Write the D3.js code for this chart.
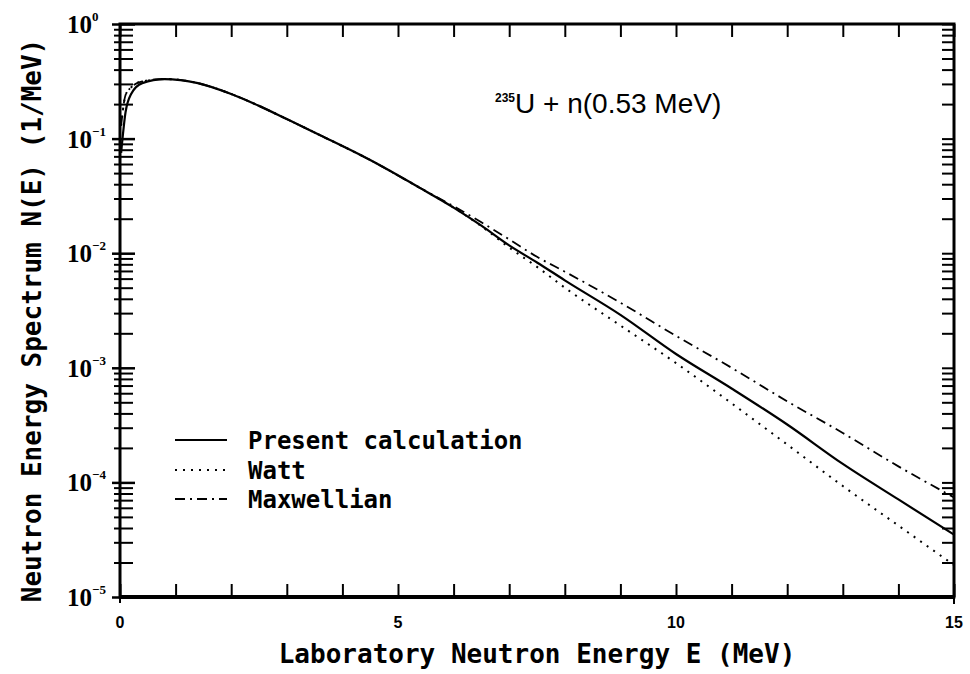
<!DOCTYPE html>
<html>
<head>
<meta charset="utf-8">
<script src="https://cdn.jsdelivr.net/npm/d3@7"></script>
<style>
  html, body { margin: 0; padding: 0; background: #fff; }
  svg { display: block; }
  .mono { font-family: "DejaVu Sans Mono", "Liberation Mono", monospace; font-weight: bold; }
  .serif { font-family: "Liberation Serif", "DejaVu Serif", serif; font-weight: bold; }
  .sans { font-family: "Liberation Sans", Arial, sans-serif; }
</style>
</head>
<body>
<svg id="chart" width="970" height="674"></svg>
<script>
// Neutron energy grid (MeV)
const energy = [0.02, 0.1, 0.2, 0.4, 0.8, 1.4, 2.0, 2.5, 3.0, 3.6, 4.5, 5.4,
                6.0, 6.5, 7.0, 7.5, 8.0, 9.0, 10.0, 11.0, 12.0, 13.0, 14.0, 15.0];
// N(E) in 1/MeV
const presentCalc = [0.075, 0.17, 0.245, 0.305, 0.331, 0.305, 0.245, 0.193, 0.148, 0.107, 0.065, 0.037,
                     0.025, 0.0174, 0.0117, 0.0083, 0.0058, 0.0029, 0.00132, 0.00066, 0.00032, 0.000145, 7.1e-5, 3.5e-5];
const watt        = [0.13, 0.24, 0.28, 0.315, 0.331, 0.305, 0.245, 0.193, 0.148, 0.107, 0.065, 0.037,
                     0.025, 0.0172, 0.0112, 0.0076, 0.0050, 0.00234, 0.0011, 0.00049, 0.000214, 9.3e-5, 4.2e-5, 1.9e-5];
const maxwellian  = [0.13, 0.24, 0.28, 0.315, 0.331, 0.305, 0.245, 0.193, 0.148, 0.107, 0.065, 0.037,
                     0.0257, 0.0186, 0.0132, 0.0093, 0.0069, 0.0037, 0.0019, 0.001, 0.00051, 0.00027, 0.000138, 7.4e-5];

const xLabelTicks = [0, 5, 10, 15];
const decadeExponents = [0, -1, -2, -3, -4, -5];
const seriesNames = ["Present calculation", "Watt", "Maxwellian"];

const svg = d3.select("#chart");
const plotL = 120, plotR = 954, plotT = 24, plotB = 597;

const x = d3.scaleLinear().domain([0, 15]).range([plotL, plotR]);
const y = d3.scaleLog().domain([1e-5, 1]).range([plotB, plotT]);

// minor tick values: 2..9 within each decade
const minorVals = [];
for (let e = -5; e < 0; e++) for (let m = 2; m <= 9; m++) minorVals.push(m * Math.pow(10, e));
const decadeVals = decadeExponents.map(e => Math.pow(10, e));
const intTicks = d3.range(0, 16);

const axisG = svg.append("g").attr("stroke", "#000");

// left axis: crossing ticks
axisG.append("g").attr("transform", `translate(${plotL},0)`)
  .call(d3.axisLeft(y).tickValues(minorVals).tickSize(0).tickFormat(""))
  .call(g => g.select(".domain").remove())
  .call(g => g.selectAll(".tick line").attr("x1", -6).attr("x2", 13).attr("stroke-width", 2));
axisG.append("g").attr("transform", `translate(${plotL},0)`)
  .call(d3.axisLeft(y).tickValues(decadeVals).tickSize(0).tickFormat(""))
  .call(g => g.select(".domain").remove())
  .call(g => g.selectAll(".tick line").attr("x1", -8).attr("x2", 15).attr("stroke-width", 2.5));

// right axis: inward ticks
axisG.append("g").attr("transform", `translate(${plotR},0)`)
  .call(d3.axisRight(y).tickValues(minorVals.concat(decadeVals)).tickSize(0).tickFormat(""))
  .call(g => g.select(".domain").remove())
  .call(g => g.selectAll(".tick line").attr("x1", -12).attr("x2", 0).attr("stroke-width", 2));

// top and bottom axes: inward ticks at each MeV
axisG.append("g").attr("transform", `translate(0,${plotT})`)
  .call(d3.axisTop(x).tickValues(intTicks).tickSize(0).tickFormat(""))
  .call(g => g.select(".domain").remove())
  .call(g => g.selectAll(".tick line").attr("y1", 0).attr("y2", 13).attr("stroke-width", 2));
axisG.append("g").attr("transform", `translate(0,${plotB})`)
  .call(d3.axisBottom(x).tickValues(intTicks).tickSize(0).tickFormat(""))
  .call(g => g.select(".domain").remove())
  .call(g => g.selectAll(".tick line").attr("y1", -13).attr("y2", 0).attr("stroke-width", 2));
axisG.append("line").attr("x1", x(0)).attr("x2", x(0)).attr("y1", plotB).attr("y2", plotB + 6).attr("stroke-width", 2);
axisG.append("line").attr("x1", x(15)).attr("x2", x(15)).attr("y1", plotB).attr("y2", plotB + 7).attr("stroke-width", 2);

// frame
svg.append("rect")
  .attr("x", plotL).attr("y", plotT)
  .attr("width", plotR - plotL).attr("height", plotB - plotT)
  .attr("fill", "none").attr("stroke", "#000").attr("stroke-width", 3);
svg.append("line").attr("x1", plotL).attr("x2", plotR).attr("y1", plotB).attr("y2", plotB)
  .attr("stroke", "#000").attr("stroke-width", 4);

// y tick labels: 10^n
const yLab = svg.append("g").attr("class", "serif").attr("fill", "#000");
decadeExponents.forEach(e => {
  const t = yLab.append("text")
    .attr("x", 67).attr("y", y(Math.pow(10, e)) + 9)
    .attr("font-size", 25);
  t.append("tspan").text("10");
  t.append("tspan").attr("dy", -12).attr("font-size", 13).text(e === 0 ? "0" : String(e).replace("-", "\u2212"));
});

// x tick labels
svg.append("g").attr("class", "sans").attr("font-weight", "bold")
  .selectAll("text").data(xLabelTicks).join("text")
  .attr("x", d => x(d)).attr("y", plotB + 31)
  .attr("text-anchor", "middle").attr("font-size", 16)
  .text(d => d);

// curves
const line = d3.line().x(d => x(d[0])).y(d => y(d[1])).curve(d3.curveMonotoneX);
const zipped = vals => energy.map((e, i) => [e, vals[i]]);
const plot = svg.append("g").attr("fill", "none").attr("stroke", "#000");
plot.append("path").datum(zipped(watt)).attr("d", line)
  .attr("stroke-width", 2).attr("stroke-dasharray", "2,6");
plot.append("path").datum(zipped(maxwellian)).attr("d", line)
  .attr("stroke-width", 1.8).attr("stroke-dasharray", "10,5,2,5");
plot.append("path").datum(zipped(presentCalc)).attr("d", line)
  .attr("stroke-width", 2.2);

// legend
const legend = svg.append("g");
const legendRows = [
  { name: seriesNames[0], y: 440, dash: null },
  { name: seriesNames[1], y: 470, dash: "2,6" },
  { name: seriesNames[2], y: 499, dash: "10,5,2,5" }
];
legendRows.forEach(r => {
  const l = legend.append("line").attr("x1", 175).attr("x2", 227).attr("y1", r.y).attr("y2", r.y)
    .attr("stroke", "#000").attr("stroke-width", 2);
  if (r.dash) l.attr("stroke-dasharray", r.dash);
  legend.append("text").attr("class", "mono").attr("x", 248).attr("y", r.y + 9)
    .attr("font-size", 24).text(r.name);
});

// reaction label
const rl = svg.append("text").attr("class", "sans").attr("x", 495).attr("y", 113).attr("font-size", 28);
rl.append("tspan").attr("font-size", 12).attr("font-weight", "bold").attr("dy", -11).text("235");
rl.append("tspan").attr("dy", 11).text("U + n(0.53 MeV)");

// axis titles
svg.append("text").attr("class", "mono").attr("font-size", 26)
  .attr("text-anchor", "middle")
  .attr("transform", `translate(41,${(plotT + plotB) / 2 + 10}) rotate(-90)`)
  .text("Neutron Energy Spectrum N(E) (1/MeV)");
svg.append("text").attr("class", "mono").attr("font-size", 26)
  .attr("text-anchor", "middle")
  .attr("x", (plotL + plotR) / 2).attr("y", 663)
  .text("Laboratory Neutron Energy E (MeV)");
</script>
</body>
</html>
